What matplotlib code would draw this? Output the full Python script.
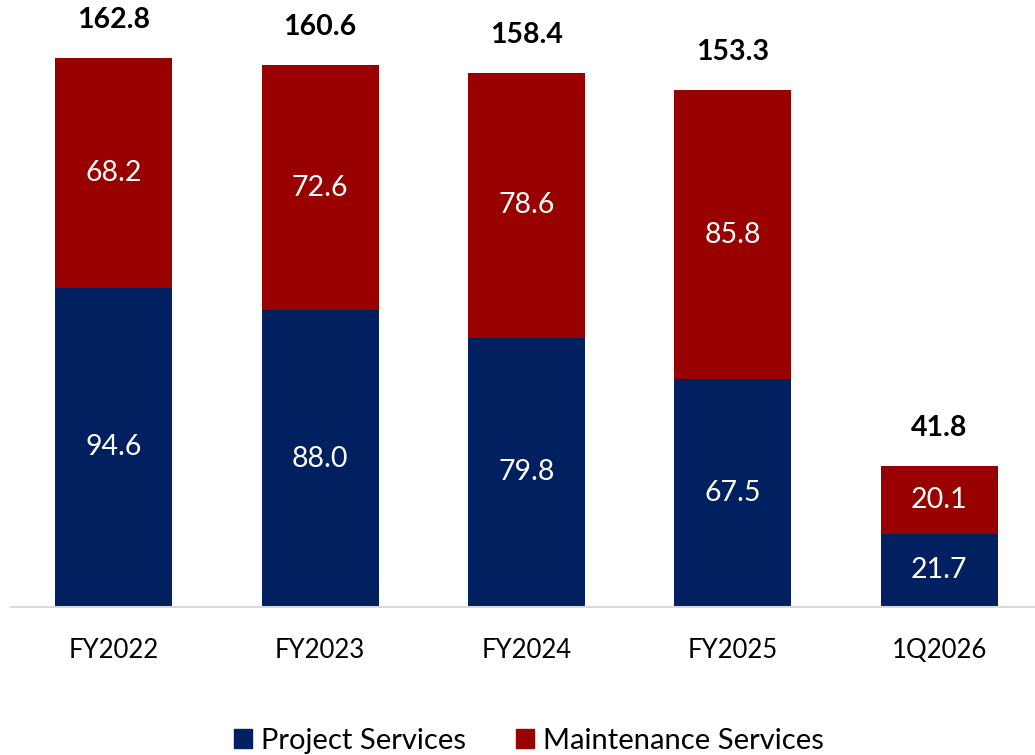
import matplotlib
matplotlib.use("Agg")
import matplotlib.pyplot as plt
import numpy as np
from matplotlib.patches import Patch

plt.rcParams['font.family'] = ['Lato', 'DejaVu Sans']

categories = ["FY2022", "FY2023", "FY2024", "FY2025", "1Q2026"]
project = [94.6, 88.0, 79.8, 67.5, 21.7]
maintenance = [68.2, 72.6, 78.6, 85.8, 20.1]
totals = [162.8, 160.6, 158.4, 153.3, 41.8]

blue = "#002060"
red = "#990000"

fig = plt.figure(figsize=(10.35, 7.55), dpi=100)
ax = fig.add_axes([10.5 / 1035, 148 / 755, 1032 / 1035, 607 / 755])

x = np.arange(len(categories))
w = 0.567
ax.bar(x, project, w, color=blue)
ax.bar(x, maintenance, w, bottom=project, color=red)

for i in range(len(categories)):
    ax.text(x[i], project[i] / 2, f"{project[i]:.1f}", ha="center", va="center",
            color="white", fontsize=20.5)
    ax.text(x[i], project[i] + maintenance[i] / 2, f"{maintenance[i]:.1f}",
            ha="center", va="center", color="white", fontsize=20.5)
    ax.annotate(f"{totals[i]:.1f}", (x[i], project[i] + maintenance[i]),
                xytext=(0, 18), textcoords="offset points", ha="center",
                va="bottom", fontsize=20.5, fontweight="bold", color="black")

ax.set_xlim(-0.5, 4.5)
ax.set_ylim(0, 180)
ax.set_xticks(x)
ax.set_xticklabels(categories, fontsize=18.5)
ax.tick_params(axis="x", length=0, pad=22)
ax.set_yticks([])
for s in ["top", "right", "left"]:
    ax.spines[s].set_visible(False)
ax.spines["bottom"].set_color("#d9d9d9")
ax.spines["bottom"].set_linewidth(1.5)

handles = [Patch(color=blue, label="Project Services"),
           Patch(color=red, label="Maintenance Services")]
fig.legend(handles=handles, loc="center", bbox_to_anchor=(529 / 1035, 1 - 741 / 755),
           ncol=2, frameon=False, fontsize=21, handlelength=0.62, handleheight=0.62,
           handletextpad=0.31, columnspacing=1.7)

fig.savefig("out.png", dpi=100)
